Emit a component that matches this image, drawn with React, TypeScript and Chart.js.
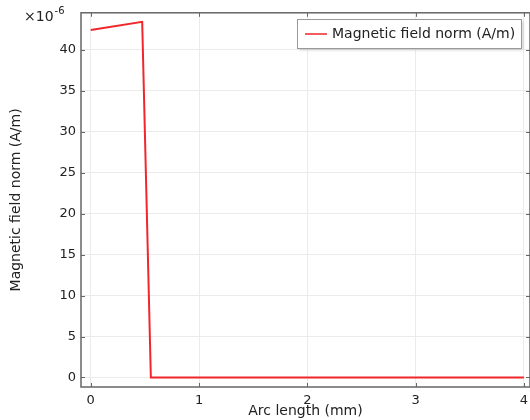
import React, { useEffect, useRef } from "react";
import { Chart, registerables } from "chart.js";

Chart.register(...registerables);

// ---- data ----
const arcLengthMm = [0, 0.475, 0.555, 4];
const fieldNormE6 = [42.4, 43.4, 0, 0]; // in units of 1e-6 A/m
const xTickValues = [0, 1, 2, 3, 4];
const yTickValues = [0, 5, 10, 15, 20, 25, 30, 35, 40];
const seriesLabel = "Magnetic field norm (A/m)";
const xAxisTitle = "Arc length (mm)";
const yAxisTitle = "Magnetic field norm (A/m)";
const yExponentBase = "×10";
const yExponent = "-6";

const FONT = "'DejaVu Sans', sans-serif";
const TEXT = "#222";
const FRAME = "#666";
const LINE_RED = "#f0262a";

const decorPlugin = {
  id: "decor",
  afterDraw(chart: any) {
    const { ctx, chartArea: a, scales } = chart;
    const xs = scales.x;
    const ys = scales.y;
    ctx.save();
    // inner ticks on all four sides
    ctx.strokeStyle = FRAME;
    ctx.lineWidth = 1;
    const tl = 4;
    ctx.beginPath();
    xTickValues.forEach((v) => {
      const px = Math.round(xs.getPixelForValue(v)) + 0.5;
      ctx.moveTo(px, a.bottom);
      ctx.lineTo(px, a.bottom - tl);
      ctx.moveTo(px, a.top);
      ctx.lineTo(px, a.top + tl);
    });
    yTickValues.forEach((v) => {
      const py = Math.round(ys.getPixelForValue(v)) + 0.5;
      ctx.moveTo(a.left, py);
      ctx.lineTo(a.left + tl, py);
      ctx.moveTo(a.right, py);
      ctx.lineTo(a.right - tl, py);
    });
    ctx.stroke();
    // frame
    ctx.lineWidth = 1.5;
    ctx.strokeStyle = FRAME;
    ctx.strokeRect(a.left, a.top, a.right - a.left, a.bottom - a.top);

    // exponent label
    ctx.fillStyle = TEXT;
    ctx.textBaseline = "middle";
    ctx.textAlign = "left";
    ctx.font = `14px ${FONT}`;
    ctx.fillText(yExponentBase, 24, 17);
    const w = ctx.measureText(yExponentBase).width;
    ctx.font = `10px ${FONT}`;
    ctx.fillText(yExponent, 24 + w + 1, 11);

    // legend
    const lx = 297.5, ly = 19.5, lw = 224, lh = 29;
    ctx.shadowColor = "rgba(0,0,0,0.25)";
    ctx.shadowBlur = 3;
    ctx.shadowOffsetX = 1;
    ctx.shadowOffsetY = 1;
    ctx.fillStyle = "#fff";
    ctx.fillRect(lx, ly, lw, lh);
    ctx.shadowColor = "transparent";
    ctx.strokeStyle = "#999";
    ctx.lineWidth = 1;
    ctx.strokeRect(lx, ly, lw, lh);
    ctx.strokeStyle = LINE_RED;
    ctx.lineWidth = 1.5;
    ctx.beginPath();
    ctx.moveTo(305, 34);
    ctx.lineTo(327, 34);
    ctx.stroke();
    ctx.fillStyle = TEXT;
    ctx.font = `14px ${FONT}`;
    ctx.textBaseline = "middle";
    ctx.fillText(seriesLabel, 332, 34);
    ctx.restore();
  },
};

export default function App() {
  const ref = useRef<HTMLCanvasElement | null>(null);
  useEffect(() => {
    document.body.style.margin = "0";
    const canvas = ref.current!;
    const chart = new Chart(canvas, {
      type: "line",
      data: {
        datasets: [
          {
            label: seriesLabel,
            data: arcLengthMm.map((x, i) => ({ x, y: fieldNormE6[i] })),
            borderColor: LINE_RED,
            borderWidth: 2,
            pointRadius: 0,
            tension: 0,
            fill: false,
          },
        ],
      },
      options: {
        responsive: false,
        animation: false,
        layout: { padding: { top: 10, right: 0, left: 0, bottom: 0 } },
        plugins: {
          legend: { display: false },
          tooltip: { enabled: false },
        },
        scales: {
          x: {
            type: "linear",
            min: -0.09,
            max: 4.056,
            afterBuildTicks: (s: any) => {
              s.ticks = xTickValues.map((v) => ({ value: v }));
            },
            afterFit: (s: any) => {
              s.height = 33;
              s.paddingLeft = 0;
              s.paddingRight = 0;
            },
            ticks: {
              padding: 6,
              color: TEXT,
              font: { family: FONT, size: 13 },
              maxRotation: 0,
              callback: (v: any) => String(v),
            },
            grid: { color: "#ebebeb", drawTicks: false, lineWidth: 1 },
            border: { display: false },
            title: {
              display: true,
              text: xAxisTitle,
              color: TEXT,
              font: { family: FONT, size: 14 },
              padding: { top: 0, bottom: 0 },
            },
          },
          y: {
            type: "linear",
            min: -1.16,
            max: 44.5,
            afterBuildTicks: (s: any) => {
              s.ticks = yTickValues.map((v) => ({ value: v }));
            },
            afterFit: (s: any) => {
              s.width = 81;
            },
            ticks: {
              padding: 5,
              color: TEXT,
              font: { family: FONT, size: 13 },
              callback: (v: any) => String(v),
            },
            grid: { color: "#ebebeb", drawTicks: false, lineWidth: 1 },
            border: { display: false },
            title: {
              display: true,
              text: yAxisTitle,
              color: TEXT,
              font: { family: FONT, size: 14 },
              padding: { top: 8, bottom: 0 },
            },
          },
        },
      },
      plugins: [decorPlugin],
    } as any);
    return () => chart.destroy();
  }, []);
  return (
    <div style={{ width: 530, height: 420 }}>
      <canvas ref={ref} width={530} height={420} style={{ display: "block" }} />
    </div>
  );
}
